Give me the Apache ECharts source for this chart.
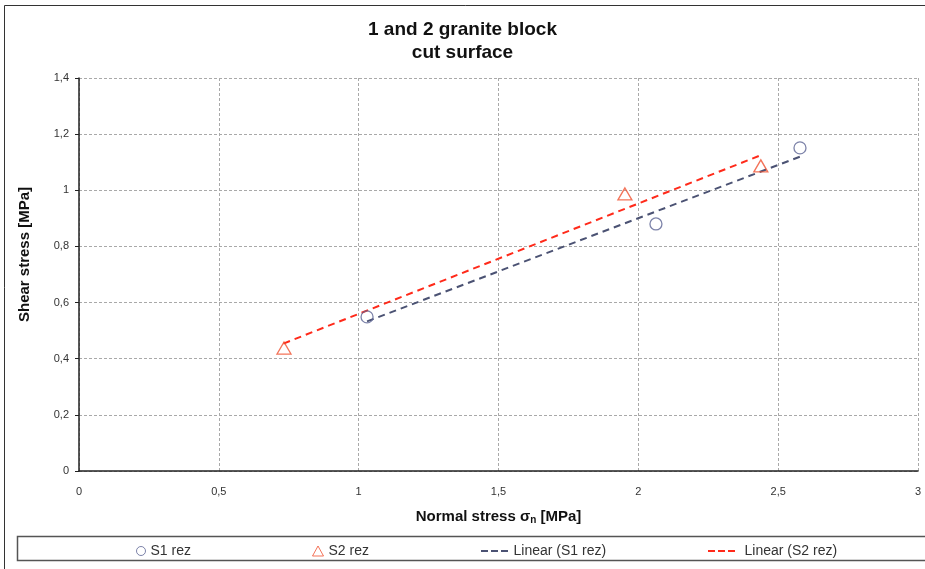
<!DOCTYPE html>
<html><head><meta charset="utf-8">
<script src="https://cdn.jsdelivr.net/npm/echarts@6/dist/echarts.min.js"></script>
<style>html,body{margin:0;padding:0;background:#fff}#c{width:925px;height:569px}</style>
</head><body><div id="c"></div>
<script>
const titleLines = ['1 and 2 granite block', 'cut surface'];
const seriesNames = ['S1 rez', 'S2 rez', 'Linear (S1 rez)', 'Linear (S2 rez)'];
const s1x = [1.03, 2.063, 2.578];
const s1y = [0.549, 0.880, 1.151];
const s2x = [0.733, 1.952, 2.438];
const s2y = [0.438, 0.987, 1.087];
// trend line endpoints
const t1x = [1.03, 2.584];
const t1y = [0.533, 1.122];
const t2x = [0.731, 2.443];
const t2y = [0.454, 1.127];
const xTicks = [0, 0.5, 1, 1.5, 2, 2.5, 3];
const yTicks = [0, 0.2, 0.4, 0.6, 0.8, 1, 1.2, 1.4];

const pts = (xs, ys) => xs.map((x, i) => [x, ys[i]]);
const fmt = v => String(v).replace('.', ',');
const FONT = '"Liberation Sans", Arial, sans-serif';
const C1 = '#4b5273', C1m = '#5c6494', C2 = '#ff2a1a', C2m = '#f0502f';
const DASH_ICON = 'path://M0,0h7v2h-7z M10,0h7v2h-7z M20,0h7v2h-7z';

const chart = echarts.init(document.getElementById('c'));
const legendCommon = {top: 539, itemHeight: 10, textStyle: {fontFamily: FONT, fontSize: 14, color: '#333'}, itemGap: 6};
chart.setOption({
  animation: false,
  title: {text: titleLines.join('\n'), left: 'center', top: 13,
    textStyle: {fontFamily: FONT, fontSize: 19, fontWeight: 'bold', color: '#111', lineHeight: 23}},
  grid: {left: 79, right: 7, top: 78, bottom: 98},
  graphic: [
    {type: 'rect', shape: {x: 4.5, y: 5.5, width: 940, height: 600}, style: {fill: 'none', stroke: '#333', lineWidth: 1}, silent: true, z: -1},
    {type: 'rect', shape: {x: 17.5, y: 536.5, width: 940, height: 24}, style: {fill: 'none', stroke: '#555', lineWidth: 1.5}, silent: true, z: -1}
  ],
  xAxis: {type: 'value', min: 0, max: 3, interval: 0.5,
    name: '{b|Normal stress σ}{s|n}{b| [MPa]}', nameLocation: 'middle', nameGap: 37,
    nameTextStyle: {rich: {b: {fontFamily: FONT, fontSize: 15, fontWeight: 'bold', color: '#111'},
      s: {fontFamily: FONT, fontSize: 10, fontWeight: 'bold', color: '#111', verticalAlign: 'bottom', padding: [7, 0, 0, 0]}}},
    axisLine: {lineStyle: {color: '#222', width: 1.5}},
    axisTick: {show: false},
    axisLabel: {fontFamily: FONT, fontSize: 11, color: '#333', margin: 15, formatter: v => fmt(v)},
    splitLine: {show: true, lineStyle: {color: '#a9a9a9', type: [3, 2], width: 1}}},
  yAxis: {type: 'value', min: 0, max: 1.4, interval: 0.2,
    name: 'Shear stress [MPa]', nameLocation: 'middle', nameGap: 47,
    nameTextStyle: {fontFamily: FONT, fontSize: 15, fontWeight: 'bold', color: '#111', padding: [0, 0, 0, 40]},
    axisLine: {show: true, lineStyle: {color: '#222', width: 1.5}},
    axisTick: {show: true, length: 4, lineStyle: {color: '#222'}},
    axisLabel: {fontFamily: FONT, fontSize: 11, color: '#333', margin: 10, formatter: v => fmt(Math.round(v * 10) / 10)},
    splitLine: {show: true, lineStyle: {color: '#a9a9a9', type: [3, 2], width: 1}}},
  legend: [
    Object.assign({}, legendCommon, {left: 131, itemWidth: 9, itemHeight: 9,
      data: [{name: seriesNames[0], icon: 'circle', itemStyle: {color: 'rgba(255,255,255,0)', borderColor: C1m, borderWidth: 1}}]}),
    Object.assign({}, legendCommon, {left: 307, itemWidth: 11, itemHeight: 10,
      data: [{name: seriesNames[1], icon: 'triangle', itemStyle: {color: 'rgba(255,255,255,0)', borderColor: C2m, borderWidth: 1}}]}),
    Object.assign({}, legendCommon, {left: 476, itemWidth: 28, itemHeight: 2, itemGap: 2,
      data: [{name: seriesNames[2], icon: DASH_ICON, itemStyle: {color: C1}}]}),
    Object.assign({}, legendCommon, {left: 703, itemWidth: 36, itemHeight: 2, itemGap: 2,
      data: [{name: seriesNames[3], icon: DASH_ICON, itemStyle: {color: C2}}]})
  ],
  series: [
    {name: seriesNames[2], type: 'line', data: pts(t1x, t1y), showSymbol: false, symbol: 'none',
      lineStyle: {color: C1, width: 2, type: [7, 5]}, itemStyle: {color: C1}, z: 2},
    {name: seriesNames[3], type: 'line', data: pts(t2x, t2y), showSymbol: false, symbol: 'none',
      lineStyle: {color: C2, width: 2, type: [7, 5]}, itemStyle: {color: C2}, z: 2},
    {name: seriesNames[0], type: 'scatter', data: pts(s1x, s1y), symbol: 'circle', symbolSize: 12,
      itemStyle: {color: 'rgba(255,255,255,0)', borderColor: C1m, borderWidth: 1.3}, z: 3},
    {name: seriesNames[1], type: 'scatter', data: pts(s2x, s2y), symbol: 'triangle', symbolSize: [14, 12],
      itemStyle: {color: 'rgba(255,255,255,0)', borderColor: C2m, borderWidth: 1.3}, z: 3}
  ]
});
</script></body></html>
